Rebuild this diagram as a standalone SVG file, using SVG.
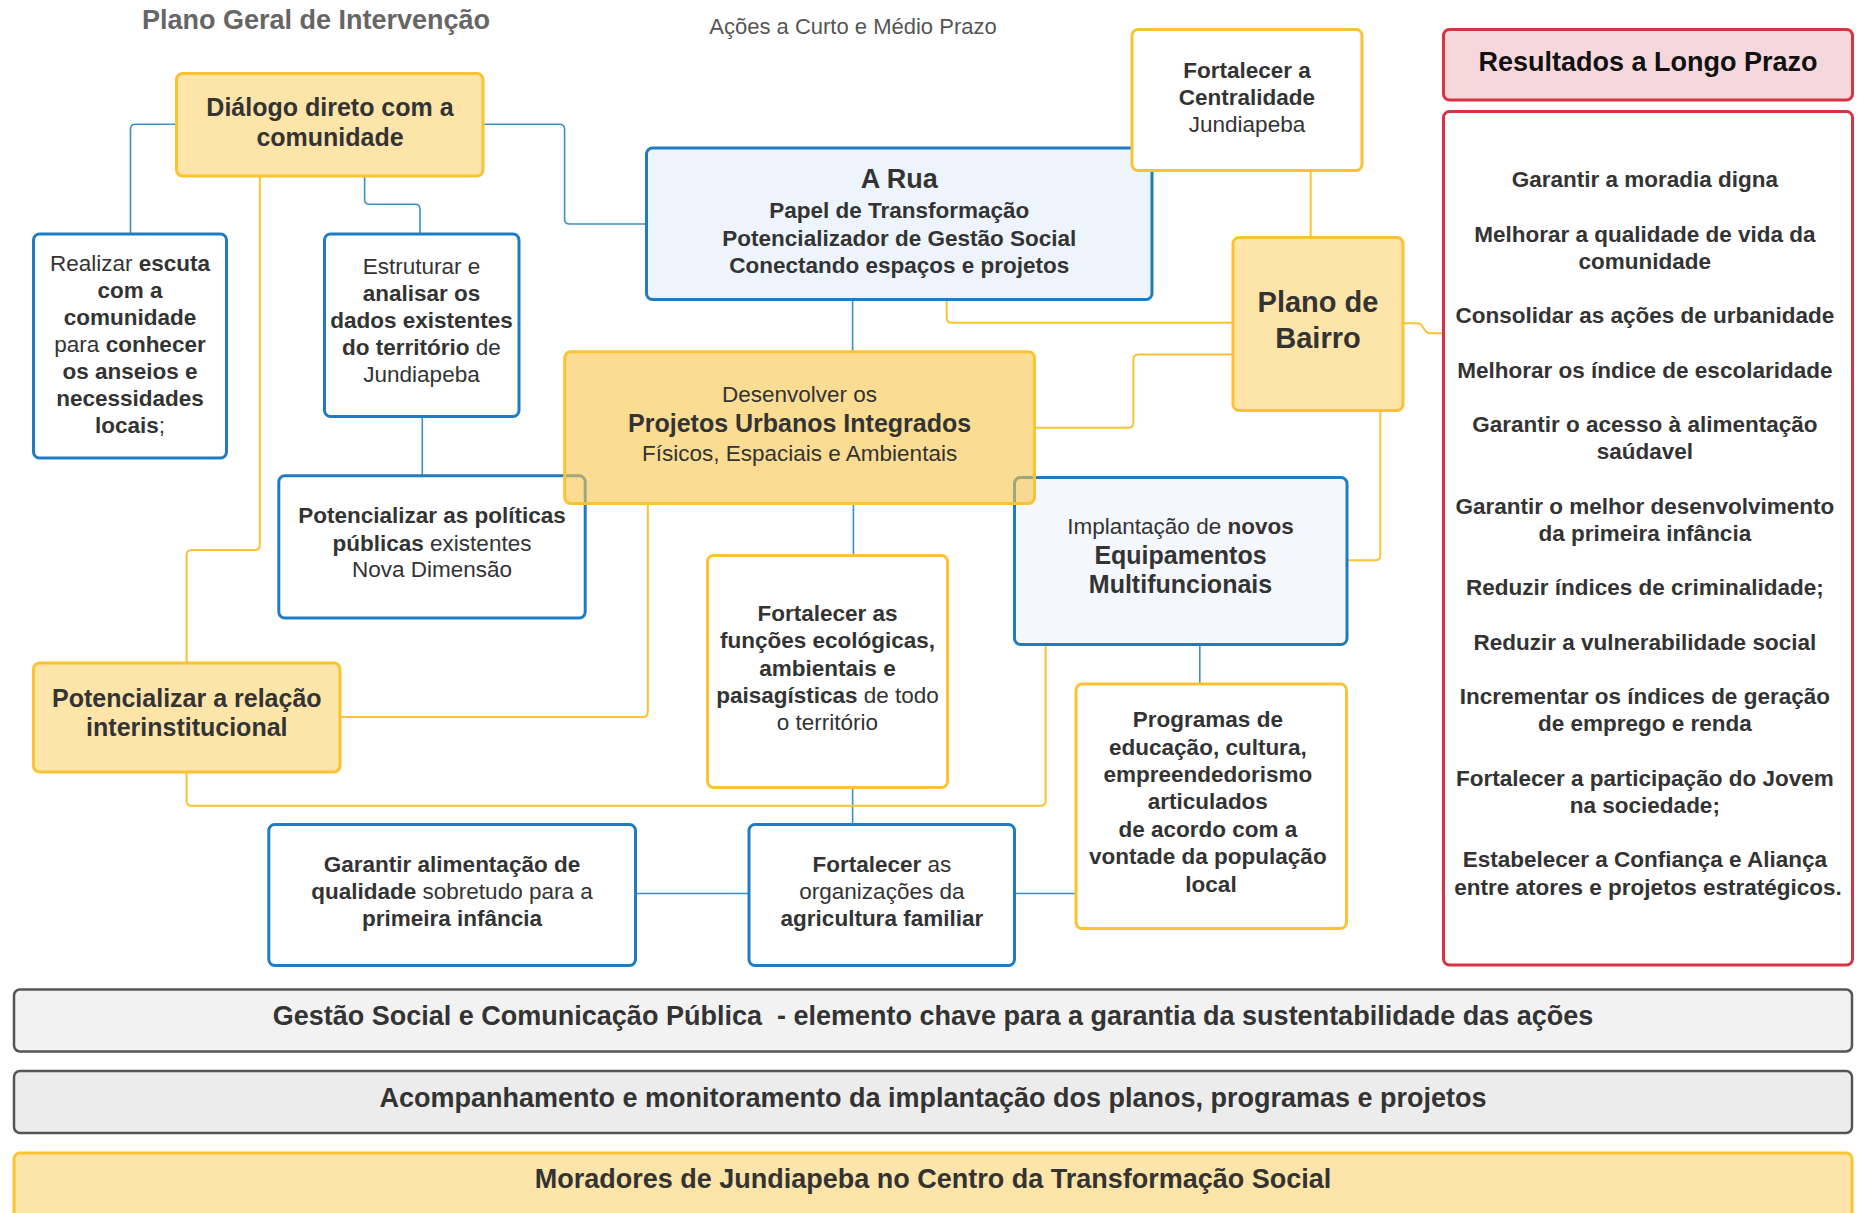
<svg xmlns="http://www.w3.org/2000/svg" width="1870" height="1213" viewBox="0 0 1870 1213">
<style>
text { font-family: "Liberation Sans", Arial, sans-serif; fill: #333; text-anchor: middle; font-size: 22.5px; }
.b { font-weight: bold; }
.h { font-size: 25px; font-weight: bold; }
.by { fill: #fde4a8; stroke: #fbc232; stroke-width: 3; }
.wy { fill: #fff; stroke: #fbc232; stroke-width: 3; }
.wb { fill: #fff; stroke: #1f7cc0; stroke-width: 3; }
.lb { fill: #eef4fb; stroke: #1f7cc0; stroke-width: 3; }
.cb { fill: none; stroke: #3a90cc; stroke-width: 1.6; }
.cy { fill: none; stroke: #fbc232; stroke-width: 2; }
.bar { stroke: #555; stroke-width: 2.5; }
.bt { font-size: 27px; font-weight: bold; }
</style>
<rect width="1870" height="1213" fill="#fff"/>
<text x="316" y="29" style="font-size:27px;font-weight:bold;fill:#666">Plano Geral de Intervenção</text>
<text x="853" y="34" style="font-size:22px;fill:#555">Ações a Curto e Médio Prazo</text>

<g id="connectors">
<path class="cb" d="M176.5,124.3 H135.5 Q130.5,124.3 130.5,129.3 V234"/>
<path class="cb" d="M364.6,176 V199.3 Q364.6,204.3 369.6,204.3 H415 Q420,204.3 420,209.3 V234"/>
<path class="cb" d="M483,124.3 H559.6 Q564.6,124.3 564.6,129.3 V219 Q564.6,224 569.6,224 H646.5"/>
<path class="cb" d="M852.6,299.5 V351.7"/>
<path class="cb" d="M422.3,416.5 V475.8"/>
<path class="cb" d="M853.4,503.4 V555.5"/>
<path class="cb" d="M852.6,787.5 V824.5"/>
<path class="cb" d="M635.5,893.5 H749"/>
<path class="cb" d="M1014.5,893.5 H1076"/>
<path class="cb" d="M1199.8,644.5 V684"/>
<path class="cy" d="M259.8,176 V544.9 Q259.8,549.9 254.8,549.9 H191.6 Q186.6,549.9 186.6,554.9 V663"/>
<path class="cy" d="M340,716.9 H642.8 Q647.8,716.9 647.8,711.9 V503.4"/>
<path class="cy" d="M186.6,772 V800.7 Q186.6,805.7 191.6,805.7 H1040.6 Q1045.6,805.7 1045.6,800.7 V644.5"/>
<path class="cy" d="M946.7,299.5 V317.7 Q946.7,322.7 951.7,322.7 H1233"/>
<path class="cy" d="M1233,354.5 H1138.4 Q1133.4,354.5 1133.4,359.5 V422.7 Q1133.4,427.7 1128.4,427.7 H1034.5"/>
<path class="cy" d="M1310.7,170.5 V237.5"/>
<path class="cy" d="M1403,323.3 H1418 C1424,323.3 1423,333.3 1430,333.3 H1443.5"/>
<path class="cy" d="M1380.3,410.5 V555.2 Q1380.3,560.2 1375.3,560.2 H1347"/>
</g>

<g id="dialogo">
<rect class="by" x="176.5" y="73.5" width="306.5" height="102.5" rx="6"/>
<text class="h" x="330" y="116">Diálogo direto com a</text>
<text class="h" x="330" y="145.7">comunidade</text>
</g>

<g id="realizar">
<rect class="wb" x="33.5" y="234" width="193" height="224" rx="6"/>
<text x="130" y="270.7">Realizar <tspan class="b">escuta</tspan></text>
<text class="b" x="130" y="297.8">com a</text>
<text class="b" x="130" y="324.9">comunidade</text>
<text x="130" y="352">para <tspan class="b">conhecer</tspan></text>
<text class="b" x="130" y="379.1">os anseios e</text>
<text class="b" x="130" y="406.2">necessidades</text>
<text x="130" y="433.3"><tspan class="b">locais</tspan>;</text>
</g>

<g id="estruturar">
<rect class="wb" x="324.5" y="234" width="194.5" height="182.5" rx="6"/>
<text x="421.5" y="274">Estruturar e</text>
<text class="b" x="421.5" y="301">analisar os</text>
<text class="b" x="421.5" y="328">dados existentes</text>
<text x="421.5" y="355"><tspan class="b">do território</tspan> de</text>
<text x="421.5" y="382">Jundiapeba</text>
</g>

<g id="a-rua">
<rect class="lb" x="646.5" y="148" width="505.5" height="151.5" rx="6"/>
<text x="899.3" y="188.3" style="font-size:27px;font-weight:bold">A Rua</text>
<text class="b" x="899.3" y="218.3">Papel de Transformação</text>
<text class="b" x="899.3" y="245.7">Potencializador de Gestão Social</text>
<text class="b" x="899.3" y="272.7">Conectando espaços e projetos</text>
</g>

<g id="centralidade">
<rect class="wy" x="1132" y="29.5" width="230" height="141" rx="6"/>
<text class="b" x="1247" y="77.7">Fortalecer a</text>
<text class="b" x="1247" y="105">Centralidade</text>
<text x="1247" y="131.7">Jundiapeba</text>
</g>

<g id="plano-bairro">
<rect class="by" x="1233" y="237.5" width="170" height="173" rx="6"/>
<text x="1318" y="311.7" style="font-size:29px;font-weight:bold">Plano de</text>
<text x="1318" y="347.7" style="font-size:29px;font-weight:bold">Bairro</text>
</g>

<g id="resultados-titulo">
<rect x="1443.5" y="29.5" width="409" height="70.5" rx="6" fill="#f6d8dc" stroke="#d73343" stroke-width="3"/>
<text x="1648" y="71" style="font-size:27px;font-weight:bold;fill:#111">Resultados a Longo Prazo</text>
</g>

<g id="resultados">
<rect x="1443.5" y="111.5" width="409" height="853.5" rx="6" fill="#fff" stroke="#d73343" stroke-width="3"/>
<text class="b">
<tspan x="1648" y="187.3">Garantir a moradia digna</tspan>
<tspan x="1648" y="241.7">Melhorar a qualidade de vida da</tspan>
<tspan x="1648" y="268.9">comunidade</tspan>
<tspan x="1648" y="323.3">Consolidar as ações de urbanidade</tspan>
<tspan x="1648" y="377.7">Melhorar os índice de escolaridade</tspan>
<tspan x="1648" y="432.1">Garantir o acesso à alimentação</tspan>
<tspan x="1648" y="459.3">saúdavel</tspan>
<tspan x="1648" y="513.7">Garantir o melhor desenvolvimento</tspan>
<tspan x="1648" y="540.9">da primeira infância</tspan>
<tspan x="1648" y="595.3">Reduzir índices de criminalidade;</tspan>
<tspan x="1648" y="649.7">Reduzir a vulnerabilidade social</tspan>
<tspan x="1648" y="704.1">Incrementar os índices de geração</tspan>
<tspan x="1648" y="731.3">de emprego e renda</tspan>
<tspan x="1648" y="785.7">Fortalecer a participação do Jovem</tspan>
<tspan x="1648" y="812.9">na sociedade;</tspan>
<tspan x="1648" y="867.3">Estabelecer a Confiança e Aliança</tspan>
<tspan x="1648" y="894.5">entre atores e projetos estratégicos.</tspan>
</text>
</g>

<g id="politicas">
<rect class="wb" x="278.8" y="475.8" width="306.4" height="142.2" rx="6"/>
<text class="b" x="432" y="523.3">Potencializar as políticas</text>
<text x="432" y="550.5"><tspan class="b">públicas</tspan> existentes</text>
<text x="432" y="577.4">Nova Dimensão</text>
</g>

<g id="equipamentos">
<rect x="1014.5" y="477.5" width="332.5" height="167" rx="6" fill="#f4f7fc" stroke="#1f7cc0" stroke-width="3"/>
<text x="1180.5" y="534.4">Implantação de <tspan class="b">novos</tspan></text>
<text class="h" x="1180.5" y="563.6">Equipamentos</text>
<text class="h" x="1180.5" y="592.9">Multifuncionais</text>
</g>

<g id="projetos">
<rect x="564.7" y="351.7" width="469.8" height="151.7" rx="6" fill="#f7c54b" fill-opacity="0.6" stroke="#fbc232" stroke-width="3"/>
<text x="799.6" y="401.7">Desenvolver os</text>
<text class="h" x="799.6" y="431.7">Projetos Urbanos Integrados</text>
<text x="799.6" y="461">Físicos, Espaciais e Ambientais</text>
</g>

<g id="relacao">
<rect class="by" x="33.5" y="663" width="306.5" height="109" rx="6"/>
<text class="h" x="186.8" y="706.5">Potencializar a relação</text>
<text class="h" x="186.8" y="735.8">interinstitucional</text>
</g>

<g id="funcoes">
<rect class="wy" x="707.5" y="555.5" width="240" height="232" rx="6"/>
<text class="b" x="827.5" y="620.5">Fortalecer as</text>
<text class="b" x="827.5" y="648">funções ecológicas,</text>
<text class="b" x="827.5" y="675.6">ambientais e</text>
<text x="827.5" y="703.1"><tspan class="b">paisagísticas</tspan> de todo</text>
<text x="827.5" y="729.6">o território</text>
</g>

<g id="programas">
<rect class="wy" x="1076" y="684" width="270.5" height="244.5" rx="6"/>
<text class="b">
<tspan x="1211" y="727.2">Programas de</tspan>
<tspan x="1211" y="754.6">educação, cultura,</tspan>
<tspan x="1211" y="782">empreendedorismo</tspan>
<tspan x="1211" y="809.4">articulados</tspan>
<tspan x="1211" y="836.8">de acordo com a</tspan>
<tspan x="1211" y="864.2">vontade da população</tspan>
<tspan x="1211" y="891.6">local</tspan>
</text>
</g>

<g id="alimentacao">
<rect class="wb" x="268.8" y="824.5" width="366.7" height="141" rx="6"/>
<text class="b" x="452" y="871.8">Garantir alimentação de</text>
<text x="452" y="899.4"><tspan class="b">qualidade</tspan> sobretudo para a</text>
<text class="b" x="452" y="926.2">primeira infância</text>
</g>

<g id="organizacoes">
<rect class="wb" x="749" y="824.5" width="265.5" height="141" rx="6"/>
<text x="881.9" y="871.8"><tspan class="b">Fortalecer</tspan> as</text>
<text x="881.9" y="899.4">organizações da</text>
<text class="b" x="881.9" y="926.2">agricultura familiar</text>
</g>

<g id="gestao">
<rect class="bar" x="14" y="989.5" width="1838" height="62" rx="6" fill="#f2f2f2"/>
<text class="bt" x="933" y="1025" xml:space="preserve">Gestão Social e Comunicação Pública  - elemento chave para a garantia da sustentabilidade das ações</text>
</g>

<g id="acompanhamento">
<rect class="bar" x="14" y="1071" width="1838" height="62" rx="6" fill="#ececec"/>
<text class="bt" x="933" y="1106.7">Acompanhamento e monitoramento da implantação dos planos, programas e projetos</text>
</g>

<g id="moradores">
<rect x="14" y="1153" width="1838" height="80" rx="6" fill="#fde4a8" stroke="#fbc232" stroke-width="3"/>
<text class="bt" x="933" y="1188.3">Moradores de Jundiapeba no Centro da Transformação Social</text>
</g>
</svg>
